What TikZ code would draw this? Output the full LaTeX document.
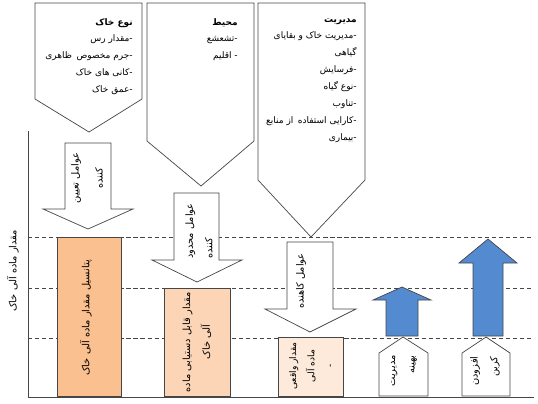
\documentclass[tikz,border=0pt]{standalone}
\usepackage{fontspec}
\newfontfamily\fa[Script=Arabic]{DejaVu Sans}
\TeXXeTstate=1
\newcommand\rl[1]{\beginR #1\endR}
\definecolor{peachA}{RGB}{250,192,143}
\definecolor{peachB}{RGB}{251,213,181}
\definecolor{peachC}{RGB}{253,234,218}
\definecolor{upblue}{RGB}{83,138,208}
\definecolor{edge}{RGB}{70,70,70}

\begin{document}
\begin{tikzpicture}[x=0.025cm,y=-0.025cm,
 shp/.style={draw=edge,line width=0.5pt,fill=white},
 guide/.style={draw=edge,line width=0.6pt,dash pattern=on 3pt off 2pt},
 txt/.style={font=\fa\fontsize{6.4}{12}\selectfont,inner sep=0pt,align=right},
 vtxt/.style={font=\fa\fontsize{7}{14}\selectfont,inner sep=0pt,rotate=90,align=center}]
\useasboundingbox (0,0) rectangle (538,403);
% guide levels
\draw[guide] (28,237) -- (534,237);
\draw[guide] (28,288) -- (534,288);
\draw[guide] (28,338) -- (534,338);
\draw[edge,line width=0.7pt] (28,131) -- (28,397) -- (534,397);
\node[vtxt] (ylab) at (13,271) {\rl{مقدار ماده آلی خاک}};
% factor pentagons
\draw[shp] (35,3) -- (142,3) -- (142,99) -- (89,132) -- (35,99) -- cycle;
\draw[shp] (147,3) -- (254,3) -- (254,141) -- (201,186) -- (147,141) -- cycle;
\draw[shp] (258,3) -- (365,3) -- (365,180) -- (311,237) -- (258,180) -- cycle;
\node[txt,anchor=north east] (soil) at (133,18) {\textbf{\rl{نوع خاک}}\\ \rl{-مقدار رس}\\
 \rl{-جرم مخصوص\enspace ظاهری}\\ \rl{-کانی های خاک}\\ \rl{-عمق خاک}};
\node[txt,anchor=north east] (env) at (238,18) {\textbf{\rl{محیط}}\\ \rl{-تشعشع}\\ \rl{- اقلیم}};
\node[txt,anchor=north east] (mgmt) at (357,18) {\textbf{\rl{مدیریت}}\\ \rl{-مدیریت خاک و بقایای}\\
 \rl{گیاهی}\\ \rl{-فرسایش}\\ \rl{-نوع گیاه}\\ \rl{-تناوب}\\ \rl{-کارایی استفاده\enspace از منابع}\\ \rl{-بیماری}};
% down arrows
\draw[shp] (65,143) -- (111,143) -- (111,209) -- (133,209) -- (88,229) -- (43,209) -- (65,209) -- cycle;
\draw[shp] (174,193) -- (219,193) -- (219,260) -- (242,260) -- (197,282) -- (152,260) -- (174,260) -- cycle;
\draw[shp] (287,242) -- (333,242) -- (333,309) -- (356,309) -- (310,332) -- (265,309) -- (287,309) -- cycle;
\node[vtxt,font=\fa\fontsize{7}{17}\selectfont] (a1) at (87,178) {\rl{عوامل تعیین}\\ \rl{کننده}};
\node[vtxt,align=left] (a2) at (199,231) {\rl{عوامل محدود}\\ \rl{کننده}};
\node[vtxt] (a3) at (301,281) {\rl{عوامل کاهنده}};
% carbon levels
\draw[shp,fill=peachA] (57,237) rectangle (121,396);
\draw[shp,fill=peachB] (164,288) rectangle (230,396);
\draw[shp,fill=peachC] (278,337) rectangle (343,396);
\node[vtxt] (b1) at (86,318) {\rl{پتانسیل مقدار ماده آلی خاک}};
\node[vtxt] (b2) at (197,342) {\rl{مقدار قابل دستیابی ماده}\\ \rl{آلی خاک}};
\node[vtxt,font=\fa\fontsize{6.5}{13}\selectfont] (b3) at (311,366) {\rl{مقدار واقعی}\\ \rl{ماده آلی}\\ -};
% gains
\draw[shp,fill=upblue] (386,336) -- (418,336) -- (418,300) -- (431,300) -- (402,287) -- (373,300) -- (386,300) -- cycle;
\draw[shp,fill=upblue] (473,336) -- (503,336) -- (503,263) -- (517,263) -- (488,239) -- (459,263) -- (473,263) -- cycle;
\draw[shp] (379,396) -- (379,353) -- (403,337) -- (428,353) -- (428,396) -- cycle;
\draw[shp] (462,396) -- (462,353) -- (486,337) -- (510,353) -- (510,396) -- cycle;
\node[vtxt,align=right] (h1) at (404,371) {\rl{مدیریت}\\ \rl{بهینه}};
\node[vtxt,align=right] (h2) at (485,371) {\rl{افزودن}\\ \rl{کربن}};
\end{tikzpicture}
\end{document}
